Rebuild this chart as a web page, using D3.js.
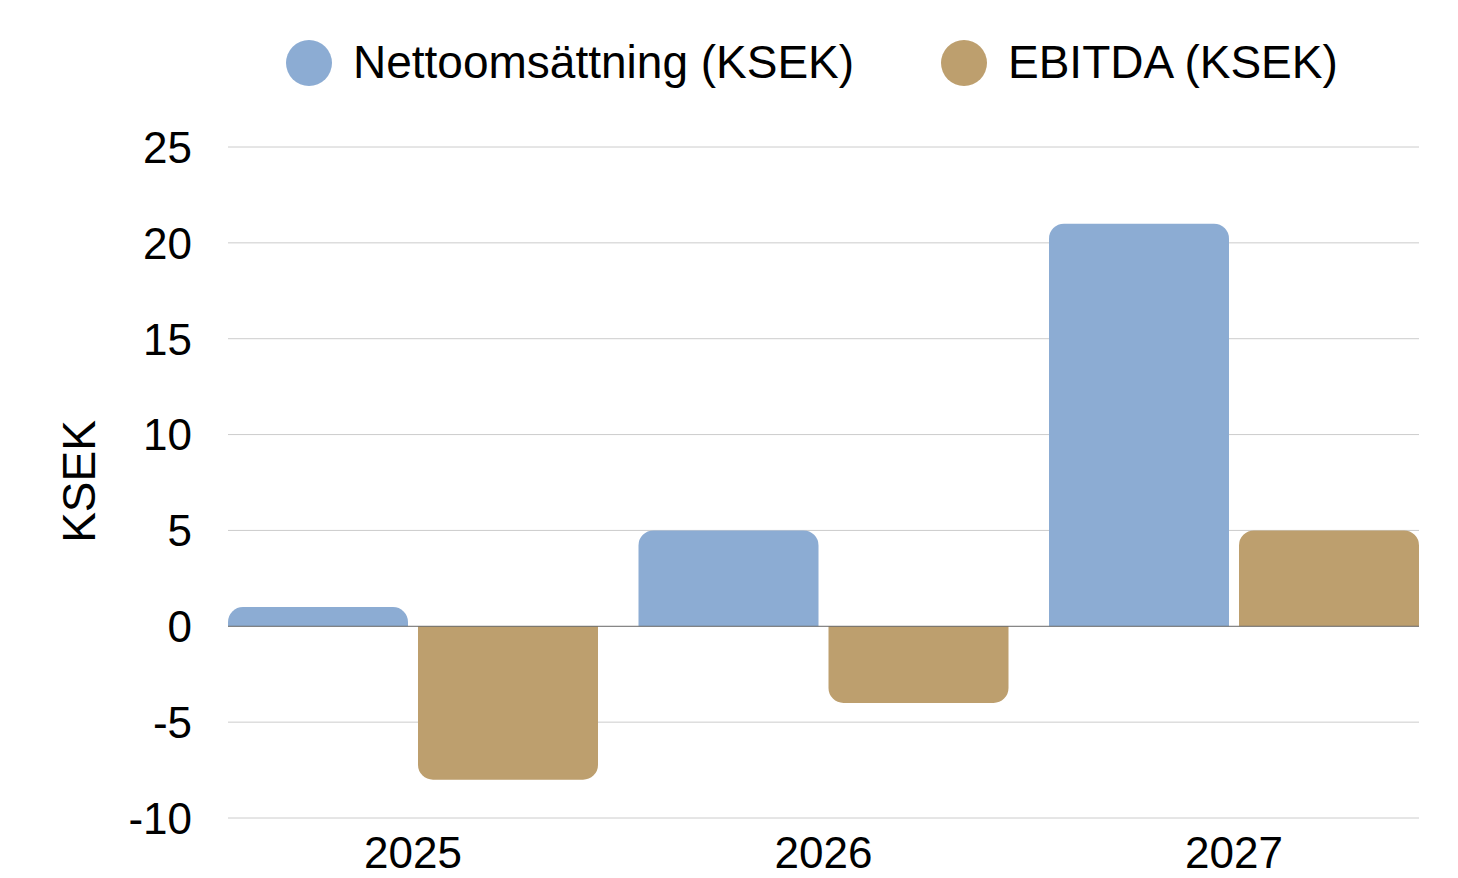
<!DOCTYPE html>
<html>
<head>
<meta charset="utf-8">
<script src="https://cdn.jsdelivr.net/npm/d3@7"></script>
<style>
  html, body { margin: 0; padding: 0; background: #fff; }
  svg { display: block; }
  text { font-family: "Liberation Sans", Arial, Helvetica, sans-serif; fill: #000; }
</style>
</head>
<body>
<svg id="chart" width="1458" height="878"></svg>
<script>
const categories = ["2025", "2026", "2027"];
const seriesNames = ["Nettoomsättning (KSEK)", "EBITDA (KSEK)"];
const nettoomsattning = [1, 5, 21];
const ebitda = [-8, -4, 5];
const yTicks = [-10, -5, 0, 5, 10, 15, 20, 25];
const colors = ["#8cacd3", "#bd9f6e"];

const svg = d3.select("#chart");
const plotLeft = 228, plotRight = 1419, plotTop = 147, plotBottom = 818;

const x0 = d3.scaleBand().domain(categories).range([plotLeft, plotRight])
  .paddingInner(40.5 / 410.5).paddingOuter(0);
const x1 = d3.scaleBand().domain(seriesNames).range([0, x0.bandwidth()])
  .paddingInner(10 / 190).paddingOuter(0);
const y = d3.scaleLinear().domain([-10, 25]).range([plotBottom, plotTop]);

// gridlines
svg.append("g").selectAll("line").data(yTicks.filter(d => d !== 0)).join("line")
  .attr("x1", plotLeft).attr("x2", plotRight)
  .attr("y1", d => y(d)).attr("y2", d => y(d))
  .attr("stroke", "#cccccc").attr("stroke-width", 1);

// y tick labels
svg.append("g").selectAll("text").data(yTicks).join("text")
  .attr("x", 192).attr("y", d => y(d))
  .attr("dy", "0.36em")
  .attr("text-anchor", "end")
  .attr("font-size", 44)
  .text(d => d);

// y axis title
svg.append("text")
  .attr("transform", `translate(95, ${(y(-10) + y(25)) / 2 - 1}) rotate(-90)`)
  .attr("text-anchor", "middle")
  .attr("font-size", 46)
  .text("KSEK");

// bars
const data = [];
categories.forEach((c, i) => {
  data.push({ cat: c, s: seriesNames[0], v: nettoomsattning[i], color: colors[0] });
  data.push({ cat: c, s: seriesNames[1], v: ebitda[i], color: colors[1] });
});

function barPath(d) {
  const bx = x0(d.cat) + x1(d.s);
  const bw = x1.bandwidth();
  const y0 = y(0), yv = y(d.v);
  const h = Math.abs(yv - y0);
  const r = Math.min(15, h, bw / 2);
  if (d.v >= 0) {
    return `M${bx},${y0} L${bx},${yv + r} A${r},${r} 0 0 1 ${bx + r},${yv} L${bx + bw - r},${yv} A${r},${r} 0 0 1 ${bx + bw},${yv + r} L${bx + bw},${y0} Z`;
  } else {
    return `M${bx},${y0} L${bx},${yv - r} A${r},${r} 0 0 0 ${bx + r},${yv} L${bx + bw - r},${yv} A${r},${r} 0 0 0 ${bx + bw},${yv - r} L${bx + bw},${y0} Z`;
  }
}

svg.append("g").selectAll("path").data(data).join("path")
  .attr("d", barPath)
  .attr("fill", d => d.color);

// zero line
svg.append("line")
  .attr("x1", plotLeft).attr("x2", plotRight)
  .attr("y1", y(0)).attr("y2", y(0))
  .attr("stroke", "#666666").attr("stroke-width", 1);

// x labels
svg.append("g").selectAll("text").data(categories).join("text")
  .attr("x", d => x0(d) + x0.bandwidth() / 2)
  .attr("y", 868)
  .attr("text-anchor", "middle")
  .attr("font-size", 44)
  .text(d => d);

// legend
const legendX = [309, 964];
const lg = svg.append("g").selectAll("g").data(seriesNames).join("g");
lg.append("circle")
  .attr("cx", (d, i) => legendX[i]).attr("cy", 63).attr("r", 23)
  .attr("fill", (d, i) => colors[i]);
lg.append("text")
  .attr("x", (d, i) => legendX[i] + 44).attr("y", 78)
  .attr("font-size", 46)
  .text(d => d);
</script>
</body>
</html>
